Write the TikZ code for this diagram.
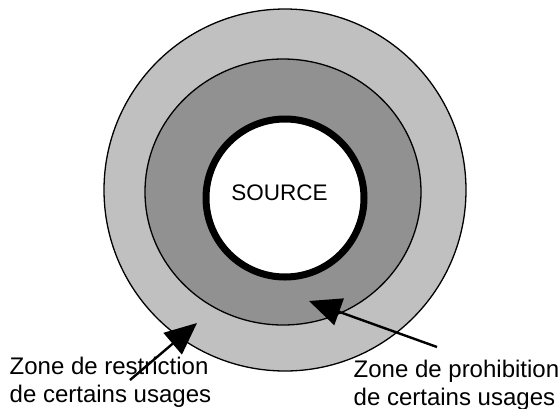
\documentclass[tikz,border=0pt]{standalone}
\usepackage{fontspec}
\setmainfont{Liberation Sans}
\usetikzlibrary{arrows.meta}
\definecolor{zoneout}{RGB}{192,192,192}
\definecolor{zonein}{RGB}{145,145,145}
\tikzset{
  zone/.style={draw=black, line width=1.3pt},
  label/.style={inner sep=0pt, align=left, font=\fontsize{24}{28}\selectfont},
  pointer/.style={line width=2.4pt, -{Triangle[length=32pt, width=28pt]}}
}
\begin{document}
\begin{tikzpicture}[x=1pt, y=-1pt]
  \useasboundingbox (0,0) rectangle (560,408);
  \fill[white] (0,0) rectangle (560,408);
  % concentric protection zones
  \draw[zone, fill=zoneout] (285,190) circle[radius=181];
  \draw[zone, fill=zonein] (283,192) ellipse[x radius=138, y radius=133];
  \draw[line width=7pt, fill=white] (285,198) circle[radius=79];
  \node[font=\fontsize{22.5}{26}\selectfont] (src) at (279.5,192.5) {SOURCE};
  % zone labels (base anchor sits on the last line)
  \node[label, anchor=base west] (restr) at (9.5,402.5) {Zone de restriction\\de certains usages};
  \node[label, anchor=base west] (prohib) at (353.5,405.3) {Zone de prohibition\\de certains usages};
  % pointers into the zones
  \coordinate (restrTail) at (130,380);
  \coordinate (restrTip) at (197,323);
  \coordinate (prohibTail) at (437,347);
  \coordinate (prohibTip) at (309,301);
  \draw[pointer] (restrTail) -- (restrTip);
  \draw[pointer] (prohibTail) -- (prohibTip);
\end{tikzpicture}
\end{document}
